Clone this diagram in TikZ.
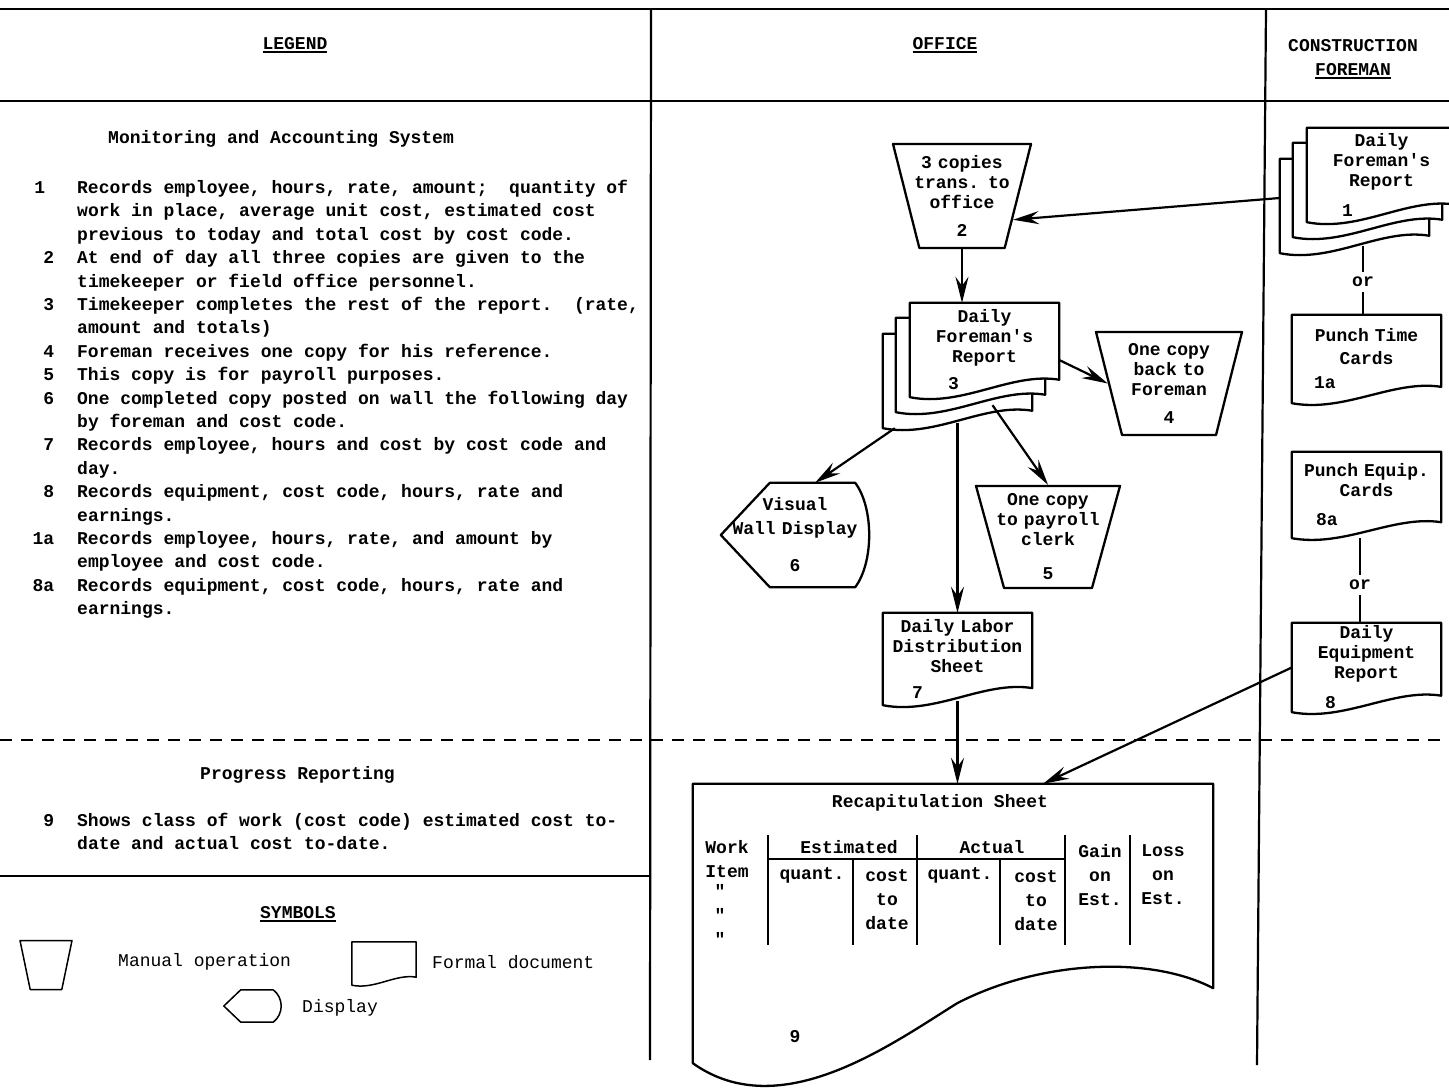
\documentclass[tikz,border=0pt]{standalone}
\usepackage{fontspec}
\setmonofont{Liberation Mono}
\usetikzlibrary{shapes.geometric, arrows.meta, positioning, backgrounds, calc}

% heading underline, number placed in the last line of a document box
\newcommand{\hdul}[1]{\setbox0=\hbox{#1}\rlap{\rule[-4pt]{\wd0}{2.4pt}}\box0}
\newcommand{\docnum}[2]{\makebox[\hsize][l]{\hspace*{#1}#2}}
% outline of a document symbol round a node, shifted by (#2,#3)
\newcommand{\docoutline}[3]{let \p1=([xshift=#2,yshift=#3]#1.north west), \p2=([xshift=#2,yshift=#3]#1.south east), \n1={\x2-\x1}, \n2={\y1-\y2} in (\x1,\y1) -- (\x2,\y1) -- (\x2,{\y2+0.185*\n2}) .. controls ({\x2-0.32*\n1},{\y2+0.27*\n2}) and ({\x1+0.35*\n1},{\y2-0.11*\n2}) .. (\x1,\y2) -- cycle}
% outline of a display symbol round a node
\newcommand{\dispoutline}[4]{(#1.west) -- ([xshift=#2]#1.north west) -- ([xshift=-#3]#1.north east) .. controls ([xshift=#3/3,yshift=-#4]#1.north east) and ([xshift=#3/3,yshift=#4]#1.south east) .. ([xshift=-#3]#1.south east) -- ([xshift=#2]#1.south west) -- cycle}

\begin{document}
\begin{tikzpicture}[
  x=1pt, y=-1pt,
  font=\ttfamily\bfseries\fontsize{18pt}{20pt}\selectfont,
  shapeline/.style={line width=2.3pt, line join=round},
  symline/.style={line width=1.5pt, line join=round},
  docbox/.style={minimum width=149pt, minimum height=92pt, text width=149pt,
                 inner sep=0pt, align=center},
  manual/.style={trapezium, draw, shapeline, shape border rotate=180,
                 trapezium left angle=72, trapezium right angle=72,
                 trapezium stretches body, minimum width=144pt, minimum height=104pt,
                 text width=108pt, inner xsep=-18pt, inner ysep=0pt, align=center},
  symmanual/.style={trapezium, draw, symline, shape border rotate=180,
                 trapezium left angle=78, trapezium right angle=78,
                 trapezium stretches body, minimum width=52pt, minimum height=49pt,
                 inner xsep=15.5pt, inner ysep=24pt},
  dispbox/.style={minimum width=148pt, minimum height=104pt, text width=148pt,
                  inner sep=0pt, align=center},
  orlabel/.style={inner sep=5pt},
  flow/.style={-{Stealth[length=26pt, width=13pt, inset=9pt]}, line width=2.2pt},
  link/.style={line width=2.2pt},
  ruleline/.style={line width=2.6pt},
  tabline/.style={line width=1.6pt},
  cell/.style={inner sep=0pt, align=center, font=\ttfamily\bfseries\fontsize{18pt}{24pt}\selectfont},
  legendtext/.style={inner sep=0pt, align=left, font=\ttfamily\bfseries\fontsize{18pt}{23.4pt}\selectfont},
  symtext/.style={inner sep=0pt, font=\ttfamily\fontsize{18pt}{20pt}\selectfont},
  head/.style={inner sep=0pt, align=center, font=\ttfamily\bfseries\fontsize{18pt}{24pt}\selectfont}
]
\useasboundingbox (0,0) rectangle (1449,1089);

% column headings
\node[head] (legendhd) at (295,45) {\hdul{LEGEND}};
\node[head] (officehd) at (945,45) {\hdul{OFFICE}};
\node[head] (foremanhd) at (1353,59) {CONSTRUCTION\\\hdul{FOREMAN}};

% legend
\node[legendtext, anchor=west] (montitle) at (108,139) {Monitoring and Accounting System};
\node[legendtext, anchor=north west] (items) at (77,180) {%
\llap{1\hspace{32pt}}Records employee, hours, rate, amount;\ \ quantity of\\
work in place, average unit cost, estimated cost\\
previous to today and total cost by cost code.\\
\llap{2\hspace{23pt}}At end of day all three copies are given to the\\
timekeeper or field office personnel.\\
\llap{3\hspace{23pt}}Timekeeper completes the rest of the report.\ \ (rate,\\
amount and totals)\\
\llap{4\hspace{23pt}}Foreman receives one copy for his reference.\\
\llap{5\hspace{23pt}}This copy is for payroll purposes.\\
\llap{6\hspace{23pt}}One completed copy posted on wall the following day\\
by foreman and cost code.\\
\llap{7\hspace{23pt}}Records employee, hours and cost by cost code and\\
day.\\
\llap{8\hspace{23pt}}Records equipment, cost code, hours, rate and\\
earnings.\\
\llap{1a\hspace{23pt}}Records employee, hours, rate, and amount by\\
employee and cost code.\\
\llap{8a\hspace{23pt}}Records equipment, cost code, hours, rate and\\
earnings.};
\node[legendtext, anchor=west] (progtitle) at (200,775) {Progress Reporting};
\node[legendtext, anchor=north west] (item9) at (77,813) {%
\llap{9\hspace{23pt}}Shows class of work (cost code) estimated cost to-\\
date and actual cost to-date.};

% symbols
\node[head] (symhd) at (298,914) {\hdul{SYMBOLS}};
\node[symmanual] (symop) at (46,965) {};
\node[symtext, anchor=west] (symoplbl) at (118,962) {Manual operation};
\node[inner sep=0pt, minimum width=64pt, minimum height=43pt] (symdoc) at (384,963.5) {};
\node[symtext, anchor=west] (symdoclbl) at (432,962) {Formal document};
\node[inner sep=0pt, minimum width=57pt, minimum height=32pt] (symdisp) at (252.5,1006) {};
\node[symtext, anchor=west] (symdisplbl) at (302,1008) {Display};

% office
\node[manual, minimum width=138pt] (op2) at (962,196) {3 copies\\trans. to\\office\\[8pt]2};
\node[docbox, minimum height=94pt] (doc3) at (984.5,350) {Daily\\Foreman's\\Report\\[7pt]\docnum{38pt}{3}};
\node[manual, minimum width=146pt, minimum height=103pt] (op4) at (1169,383.5) {One copy\\back to\\Foreman\\[8pt]4};
\node[dispbox] (disp6) at (795,535) {Visual\\[4pt]Wall Display\\[17pt]6};
\node[manual, minimum height=102pt] (op5) at (1048,537) {One copy\\to payroll\\clerk\\[14pt]5};
\node[docbox] (doc7) at (957.5,659) {Daily Labor\\Distribution\\Sheet\\[6pt]\docnum{29pt}{7}};
\node[inner sep=0pt, minimum width=520pt, minimum height=279pt] (recap) at (953,923.5) {};

% recapitulation sheet
\node[cell] (recaptitle) at (940,803) {Recapitulation Sheet};
\node[cell, align=left] (workhd) at (727,859) {Work\\Item};
\node[cell, anchor=north] (ditto) at (720,884) {"\\"\\"};
\node[cell] (estimhd) at (849,847) {Estimated};
\node[cell] (actualhd) at (992,847) {Actual};
\node[cell] (gainhd) at (1100,875) {Gain\\on\\Est.};
\node[cell] (losshd) at (1163,875) {Loss\\on\\Est.};
\node[cell] (equant) at (812,875) {quant.};
\node[cell] (ecost) at (887,900) {cost\\to\\date};
\node[cell] (aquant) at (960,875) {quant.};
\node[cell] (acost) at (1036,901) {cost\\to\\date};
\node[cell] (recapno) at (795,1037) {9};
\foreach \x in {768,917,1065,1130}
  \draw[tabline] (\x,835) -- (\x,945);
\foreach \x in {853,1000}
  \draw[tabline] (\x,860) -- (\x,945);
\draw[tabline] (768,859) -- (1065,859);

% construction foreman
\node[docbox, minimum height=94pt] (doc1) at (1381.5,175) {Daily\\Foreman's\\Report\\[10pt]\docnum{35pt}{1}};
\node[orlabel] (or1) at (1363,282) {or};
\node[docbox, minimum height=88pt] (ptc) at (1366.5,359) {Punch Time\\[3pt]Cards\\[4pt]\docnum{22pt}{1a}};
\node[docbox, minimum height=86pt] (ppe) at (1366.5,495) {Punch Equip.\\Cards\\[9pt]\docnum{24pt}{8a}};
\node[orlabel] (or2) at (1360,585) {or};
\node[docbox, minimum height=89pt] (doc8) at (1366.5,667.5) {Daily\\Equipment\\Report\\[10pt]\docnum{33pt}{8}};

% outlines behind the texts
\begin{scope}[on background layer]
  \clip (0,0) rectangle (1449,1089);
  \foreach \nd in {doc1, doc3} {
    \filldraw[shapeline, fill=white] \docoutline{\nd}{-27pt}{-31pt};
    \filldraw[shapeline, fill=white] \docoutline{\nd}{-14pt}{-15pt};
    \filldraw[shapeline, fill=white] \docoutline{\nd}{0pt}{0pt};
  }
  \foreach \nd in {ptc, ppe, doc8, doc7}
    \draw[shapeline] \docoutline{\nd}{0pt}{0pt};
  \draw[symline] \docoutline{symdoc}{0pt}{0pt};
  \draw[shapeline] \dispoutline{disp6}{49pt}{14pt}{25pt};
  \draw[symline] \dispoutline{symdisp}{17pt}{8pt}{8pt};
  \draw[shapeline] (recap.north west) -- (recap.north east)
    -- ([yshift=75pt]recap.south east)
    .. controls ([xshift=-63pt,yshift=108pt]recap.south east) and ([xshift=-173pt,yshift=103pt]recap.south east)
    .. ([xshift=-256pt,yshift=60pt]recap.south east)
    .. controls ([xshift=197pt,yshift=18pt]recap.south west) and ([xshift=87pt,yshift=-62pt]recap.south west)
    .. (recap.south west) -- cycle;
\end{scope}

% connectors
\coordinate (op2foot) at (op2.-90);
\coordinate (d3foot) at ([yshift=-26pt]doc3.south);
\coordinate (d1foot) at ([yshift=-24pt]doc1.south);
\draw[flow] ([xshift=-27pt,yshift=-23pt]doc1.west) -- (op2.-25);
\draw[flow] (op2foot) -- (op2foot |- doc3.north);
\draw[flow] ([yshift=-10pt]doc3.east) -- (op4.180);
\draw[flow] ([xshift=-15pt,yshift=-31pt]doc3.south west) -- ([xshift=20pt]disp6.north);
\draw[flow] (d3foot -| doc7.north) -- (doc7.north);
\draw[flow] ([xshift=8pt,yshift=-8pt]doc3.south) -- (op5.90);
\draw[flow] ([yshift=4pt]doc7.south) -- (doc7.south |- recap.north);
\draw[flow] (doc8.west) -- ([xshift=90pt]recap.north);
\draw[link] (d1foot -| or1.north) -- (or1.north);
\draw[link] (or1.south) -- (or1.south |- ptc.north);
\draw[link] (ppe.south -| or2.north) -- (or2.north);
\draw[link] (or2.south) -- (or2.south |- doc8.north);

% frame
\draw[ruleline] (0,9) -- (1449,9);
\draw[ruleline] (0,101) -- (1449,101);
\draw[line width=2.2pt] (651,9) -- (650,1060);
\draw[line width=2.2pt] (1266,9) -- (1257,1065);
\draw[ruleline, dash pattern=on 12pt off 9pt] (0,740) -- (1449,740);
\draw[ruleline] (0,876) -- (651,876);
\end{tikzpicture}
\end{document}
